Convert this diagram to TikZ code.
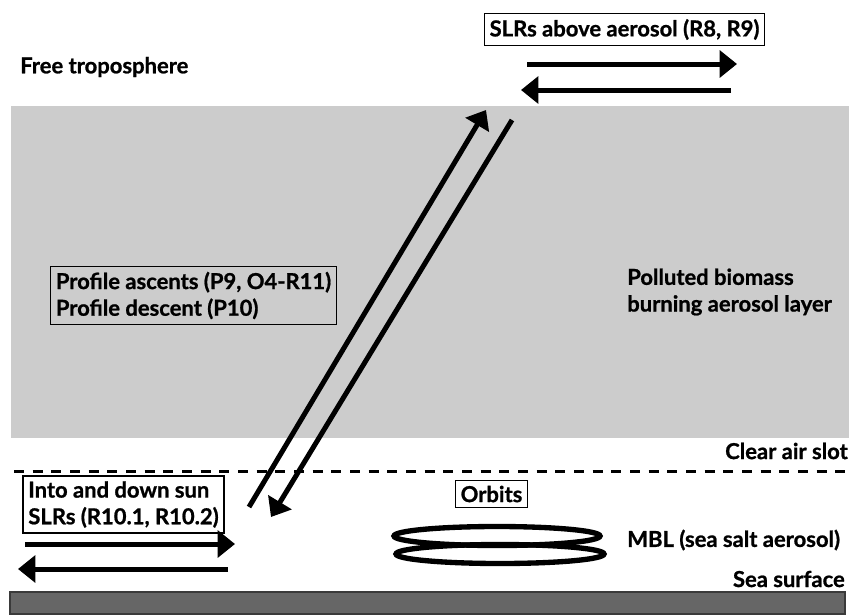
\documentclass[tikz,border=0pt]{standalone}
\usepackage{fontspec}
\setmainfont{Lato}[BoldFeatures={FakeBold=0.9}]
\usepackage{tikz}
\usetikzlibrary{positioning,arrows.meta}
\definecolor{layergray}{HTML}{CCCCCC}
\definecolor{seagray}{HTML}{666666}
\definecolor{seaedge}{HTML}{3A3A3A}
\tikzstyle{txt} = [font=\bfseries\fontsize{16.5}{20}\selectfont, inner sep=0pt, align=left]
\tikzstyle{txtbox} = [txt, draw, line width=1pt, inner xsep=4pt, inner ysep=4pt]
\tikzstyle{flight} = [line width=3.75pt, -{Triangle[length=13pt,width=20pt]}]
\tikzstyle{orbit} = [line width=4pt]

\begin{document}
\begin{tikzpicture}[x=0.75pt,y=-0.75pt]
    \useasboundingbox (0,0) rectangle (852,614);

    % Camadas
    \fill[layergray] (11,106) rectangle (849,438);
    \draw[line width=2.25pt, dash pattern=on 7.5pt off 6.5pt] (14,471) -- (852,471);
    \draw[fill=seagray, draw=seaedge, line width=1.1pt] (10,592) rectangle (845,614);

    % Etiquetas das camadas
    \node[txt, anchor=west] (free) at (20,67) {Free troposphere};
    \node[txt, anchor=west] (biomass) at (627,292) {Polluted biomass\\burning aerosol layer};
    \node[txt, anchor=east] (slot) at (848,451) {Clear air slot};
    \node[txt, anchor=west] (mbl) at (627,540) {MBL (sea salt aerosol)};
    \node[txt, anchor=east] (sea) at (845,579) {Sea surface};

    % Caixas
    \node[txtbox] (above) at (624.5,29.5) {SLRs above aerosol (R8, R9)};
    \node[txtbox] (profile) at (193.5,295.5) {Profile ascents (P9, O4-R11)\\Profile descent (P10)};
    \node[txtbox] (sun) at (123.5,504.5) {Into and down sun\\SLRs (R10.1, R10.2)};
    \node[txtbox] (orbits) at (491.5,494) {Orbits};

    % Voos
    \coordinate (a1) at (527,64);  \coordinate (a2) at (737,64);
    \coordinate (b1) at (731,90);  \coordinate (b2) at (521,90);
    \coordinate (up1) at (249,507); \coordinate (up2) at (486,110);
    \coordinate (dn1) at (512,120); \coordinate (dn2) at (271,517);
    \coordinate (c1) at (25,544);  \coordinate (c2) at (235,544);
    \coordinate (d1) at (228,569); \coordinate (d2) at (18,569);
    \draw[flight] (a1) -- (a2);
    \draw[flight] (b1) -- (b2);
    \draw[flight] (up1) -- (up2);
    \draw[flight] (dn1) -- (dn2);
    \draw[flight] (c1) -- (c2);
    \draw[flight] (d1) -- (d2);

    % Orbitas
    \draw[orbit] (500,554) ellipse [x radius=104, y radius=9.5];
    \draw[orbit] (497,536) ellipse [x radius=103, y radius=9.5];
\end{tikzpicture}
\end{document}
